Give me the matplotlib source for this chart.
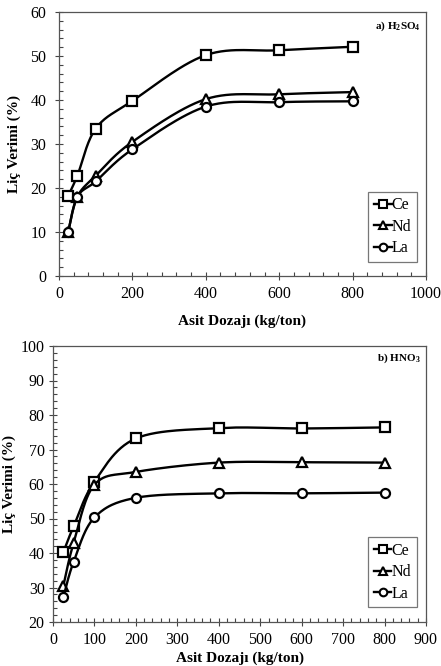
import numpy as np
import matplotlib
matplotlib.use("Agg")
import matplotlib.pyplot as plt
from matplotlib.ticker import MultipleLocator

plt.rcParams['font.family'] = ['Liberation Serif', 'DejaVu Serif']
plt.rcParams['mathtext.fontset'] = 'custom'
plt.rcParams['mathtext.rm'] = 'Liberation Serif'
plt.rcParams['mathtext.bf'] = 'Liberation Serif:bold'

dose = [25, 50, 100, 200, 400, 600, 800]

h2so4_ce = [18.2, 22.8, 33.5, 39.8, 50.2, 51.3, 52.1]
h2so4_nd = [10.0, 18.0, 22.8, 30.5, 40.2, 41.3, 41.8]
h2so4_la = [10.0, 18.0, 21.5, 28.8, 38.5, 39.5, 39.7]

hno3_ce = [40.2, 47.8, 60.7, 73.2, 76.2, 76.1, 76.4]
hno3_nd = [30.5, 43.0, 59.8, 63.5, 66.2, 66.3, 66.2]
hno3_la = [27.2, 37.5, 50.3, 56.0, 57.3, 57.3, 57.5]

labels = ['Ce', 'Nd', 'La']
markers = ['s', '^', 'o']


def smooth(x, y, n=30, t=1/6):
    # Excel-like smoothed line: cubic Bezier through points (Catmull-Rom tangents)
    x = np.asarray(x, float); y = np.asarray(y, float)
    xs, ys = [], []
    m = len(x)
    for i in range(m - 1):
        p0 = (x[max(i - 1, 0)], y[max(i - 1, 0)])
        p1 = (x[i], y[i]); p2 = (x[i + 1], y[i + 1])
        p3 = (x[min(i + 2, m - 1)], y[min(i + 2, m - 1)])
        c1 = (p1[0] + (p2[0] - p0[0]) * t, p1[1] + (p2[1] - p0[1]) * t)
        c2 = (p2[0] - (p3[0] - p1[0]) * t, p2[1] - (p3[1] - p1[1]) * t)
        s = np.linspace(0, 1, n)
        bx = (1 - s)**3 * p1[0] + 3 * (1 - s)**2 * s * c1[0] + 3 * (1 - s) * s**2 * c2[0] + s**3 * p2[0]
        by = (1 - s)**3 * p1[1] + 3 * (1 - s)**2 * s * c1[1] + 3 * (1 - s) * s**2 * c2[1] + s**3 * p2[1]
        xs.extend(bx); ys.extend(by)
    return np.array(xs), np.array(ys)


fig = plt.figure(figsize=(4.41, 6.66), dpi=100)
ax1 = fig.add_axes([59/441, 1 - 276/666, (426 - 59)/441, (276 - 12)/666])
ax2 = fig.add_axes([53/441, 1 - 622/666, (426 - 53)/441, (622 - 346)/666])


def draw(ax, series, xlim, xmaj, xmin_, ylim, title, xpad, ypad, ytpad, tpos):
    for ys, lab, mk in zip(series, labels, markers):
        sx, sy = smooth(dose, ys)
        ax.plot(sx, sy, color='black', lw=1.7)
        ax.plot(dose, ys, linestyle='none', marker=mk, markersize=7 if mk != 'o' else 6.5,
                markerfacecolor='white', markeredgecolor='black', markeredgewidth=1.6)
        ax.plot([], [], color='black', lw=1.7, marker=mk, markersize=5.5,
                markerfacecolor='white', markeredgecolor='black', markeredgewidth=1.5, label=lab)
    ax.set_xlim(*xlim)
    ax.set_ylim(*ylim)
    ax.xaxis.set_major_locator(MultipleLocator(xmaj))
    ax.xaxis.set_minor_locator(MultipleLocator(xmin_))
    ax.yaxis.set_major_locator(MultipleLocator(10))
    ax.yaxis.set_minor_locator(MultipleLocator(2))
    ax.tick_params(which='major', direction='inout', length=6, width=0.8, labelsize=11.5,
                   color='#444444', pad=4)
    ax.tick_params(axis='y', which='major', pad=ytpad)
    ax.tick_params(which='minor', direction='in', length=3, width=0.8, color='#444444')
    for sp in ax.spines.values():
        sp.set_color('#555555')
        sp.set_linewidth(0.9)
    ax.set_ylabel('Liç Verimi (%)', fontsize=11, fontweight='bold', labelpad=ypad)
    ax.set_xlabel('Asit Dozajı (kg/ton)', fontsize=11, fontweight='bold', labelpad=xpad)
    ax.text(0.985, tpos, title, transform=ax.transAxes, ha='right', va='center',
            fontsize=8, fontweight='bold')
    leg = ax.legend(loc='lower right', bbox_to_anchor=(0.975, 0.053), fontsize=11.5,
                    frameon=True, fancybox=False, handlelength=1.1, handletextpad=0.0,
                    borderpad=0.35, labelspacing=0.35, borderaxespad=0.0)
    leg.get_frame().set_edgecolor('#555555')
    leg.get_frame().set_linewidth(0.9)


draw(ax1, [h2so4_ce, h2so4_nd, h2so4_la], (0, 1000), 200, 40, (0, 60),
     r'a) H$_\mathbf{2}$SO$_\mathbf{4}$', 9, 7, 6, 0.945)
draw(ax2, [hno3_ce, hno3_nd, hno3_la], (0, 900), 100, 20, (20, 100),
     r'b) HNO$_\mathbf{3}$', 3, 3, 3, 0.955)

fig.savefig('out.png', dpi=100)
